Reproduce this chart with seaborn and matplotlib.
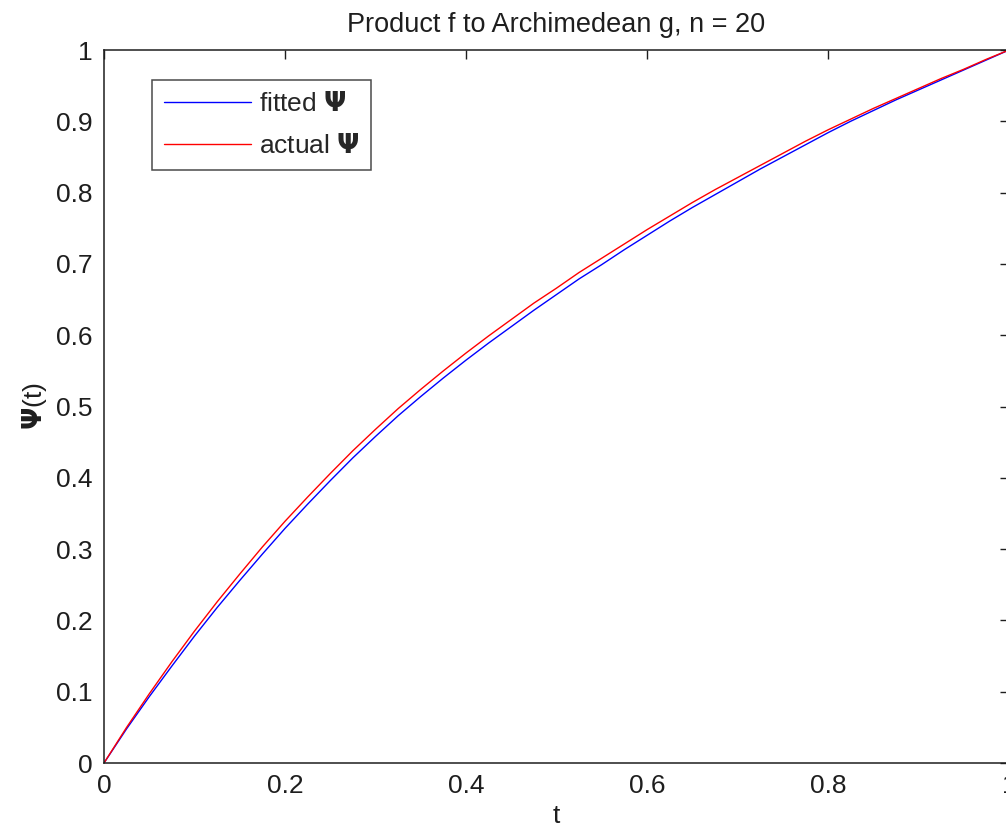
import matplotlib
matplotlib.use("Agg")
import matplotlib.pyplot as plt
import seaborn as sns
import pandas as pd

t_values = [0.000, 0.025, 0.050, 0.075, 0.100, 0.125, 0.150, 0.175, 0.200, 0.225,
            0.250, 0.275, 0.300, 0.325, 0.350, 0.375, 0.400, 0.425, 0.450, 0.475,
            0.500, 0.525, 0.550, 0.575, 0.600, 0.625, 0.650, 0.675, 0.700, 0.725,
            0.750, 0.775, 0.800, 0.825, 0.850, 0.875, 0.900, 0.925, 0.950, 0.975, 1.000]
actual_psi = [0.000, 0.050, 0.097, 0.142, 0.185, 0.226, 0.265, 0.303, 0.339, 0.373,
              0.406, 0.438, 0.468, 0.497, 0.524, 0.550, 0.575, 0.599, 0.622, 0.645,
              0.666, 0.688, 0.708, 0.728, 0.748, 0.767, 0.786, 0.804, 0.821, 0.838,
              0.855, 0.872, 0.888, 0.903, 0.918, 0.932, 0.946, 0.960, 0.973, 0.987, 1.000]
fitted_psi = [0.000, 0.048, 0.093, 0.136, 0.178, 0.218, 0.256, 0.293, 0.329, 0.363,
              0.396, 0.428, 0.458, 0.487, 0.514, 0.540, 0.565, 0.589, 0.612, 0.635,
              0.657, 0.679, 0.699, 0.720, 0.740, 0.760, 0.779, 0.797, 0.815, 0.833,
              0.850, 0.867, 0.884, 0.900, 0.915, 0.930, 0.944, 0.958, 0.972, 0.986, 1.000]
x_ticks = [0, 0.2, 0.4, 0.6, 0.8, 1]
x_tick_labels = ["0", "0.2", "0.4", "0.6", "0.8", "1"]
y_ticks = [0, 0.1, 0.2, 0.3, 0.4, 0.5, 0.6, 0.7, 0.8, 0.9, 1]
y_tick_labels = ["0", "0.1", "0.2", "0.3", "0.4", "0.5", "0.6", "0.7", "0.8", "0.9", "1"]

sns.set_style("white")
plt.rcParams['font.family'] = ['Liberation Sans', 'DejaVu Sans']
plt.rcParams['mathtext.fontset'] = 'dejavusans'

fs = 19
tc = "#1e1e1e"

lab_fit = r"fitted $\mathbf{\Psi}$"
lab_act = r"actual $\mathbf{\Psi}$"
df = pd.DataFrame({
    "t": t_values * 2,
    "psi": fitted_psi + actual_psi,
    "series": [lab_fit] * len(t_values) + [lab_act] * len(t_values),
})

fig = plt.figure(figsize=(10.06, 8.30), dpi=100)
ax = fig.add_axes([104 / 1006, 67 / 830, 905 / 1006, 713 / 830])
sns.lineplot(data=df, x="t", y="psi", hue="series",
             palette={lab_fit: "#0000ff", lab_act: "#ff0000"},
             linewidth=1.0, ax=ax, legend=True)

ax.set_xlim(0, 1)
ax.set_ylim(0, 1)
ax.set_xticks(x_ticks)
ax.set_xticklabels(x_tick_labels)
ax.set_yticks(y_ticks)
ax.set_yticklabels(y_tick_labels)
ax.tick_params(direction="in", length=6.5, width=1.0, top=True, right=True,
               labelsize=fs, colors=tc)
ax.tick_params(axis="x", pad=8)
ax.tick_params(axis="y", pad=8)
for s in ax.spines.values():
    s.set_linewidth(1.1)
    s.set_color(tc)
    s.set_visible(True)

ax.set_title("Product f to Archimedean g, n = 20", fontsize=19.5, color=tc, pad=13)
ax.set_xlabel("t", fontsize=fs, color=tc, labelpad=4)
ax.set_ylabel(r"$\mathbf{\Psi}$(t)", fontsize=fs, color=tc, labelpad=5)

leg = ax.legend(loc="upper left", bbox_to_anchor=(0.053, 0.958), borderaxespad=0,
                fontsize=fs, frameon=True, fancybox=False, edgecolor=tc,
                handlelength=3.3, handletextpad=0.3, borderpad=0.45, labelspacing=0.68)
leg.get_frame().set_linewidth(1.1)

fig.savefig("out.png", dpi=100)
